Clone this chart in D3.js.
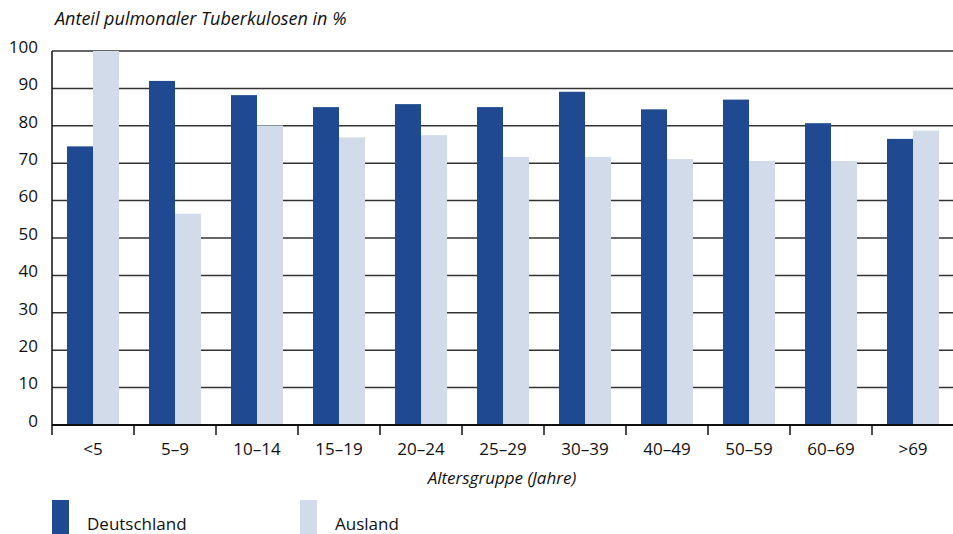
<!DOCTYPE html>
<html>
<head>
<meta charset="utf-8">
<script src="https://cdn.jsdelivr.net/npm/d3@7"></script>
<style>
  body { margin: 0; background: #fff; }
  text { font-family: "Open Sans", "DejaVu Sans", sans-serif; fill: #111; }
</style>
</head>
<body>
<div id="chart"></div>
<script>
  // Altersgruppen
  var categories = ["<5", "5\u20139", "10\u201314", "15\u201319", "20\u201324", "25\u201329", "30\u201339", "40\u201349", "50\u201359", "60\u201369", ">69"];
  var deutschland = [74.5, 92.0, 88.2, 85.0, 85.8, 85.0, 89.1, 84.4, 87.0, 80.7, 76.5];
  var ausland = [100, 56.5, 80.1, 76.9, 77.5, 71.7, 71.7, 71.1, 70.6, 70.6, 78.7];
  var yTicks = [0, 10, 20, 30, 40, 50, 60, 70, 80, 90, 100];
  var seriesNames = ["Deutschland", "Ausland"];

  var w = 953, h = 534;
  var plotLeft = 52, plotRight = 954, plotTop = 51, plotBottom = 425;
  var colors = ["#1f4a91", "#d1dbe9"];

  var svg = d3.select("#chart").append("svg")
    .attr("width", w)
    .attr("height", h);

  var xScale = d3.scaleBand()
    .domain(categories)
    .range([plotLeft, plotRight])
    .paddingInner(0)
    .paddingOuter(0);

  // two bars of ~26px in each 82px group
  var xInner = d3.scaleBand()
    .domain(seriesNames)
    .range([0, xScale.bandwidth()])
    .paddingOuter(0.577)
    .paddingInner(0);

  var yScale = d3.scaleLinear()
    .domain([0, 100])
    .range([plotBottom, plotTop]);

  // gridlines
  svg.append("g")
    .selectAll("line")
    .data(yTicks.filter(function(d) { return d > 0; }))
    .enter().append("line")
    .attr("x1", plotLeft)
    .attr("x2", w)
    .attr("y1", function(d) { return yScale(d); })
    .attr("y2", function(d) { return yScale(d); })
    .attr("stroke", "#333")
    .attr("stroke-width", 1.5);

  // y labels
  svg.append("g")
    .selectAll("text")
    .data(yTicks)
    .enter().append("text")
    .attr("x", 38)
    .attr("y", function(d) { return yScale(d); })
    .attr("dy", "0.1em")
    .style("text-anchor", "end")
    .style("font-size", "17px")
    .text(function(d) { return d; });

  // bars
  var data = categories.map(function(c, i) {
    return { cat: c, values: [
      { key: "Deutschland", v: deutschland[i] },
      { key: "Ausland", v: ausland[i] }
    ]};
  });

  var groups = svg.append("g").selectAll("g")
    .data(data)
    .enter().append("g")
    .attr("transform", function(d) { return "translate(" + xScale(d.cat) + ",0)"; });

  groups.selectAll("rect")
    .data(function(d) { return d.values; })
    .enter().append("rect")
    .attr("x", function(d) { return xInner(d.key); })
    .attr("y", function(d) { return yScale(d.v); })
    .attr("width", xInner.bandwidth())
    .attr("height", function(d) { return yScale(0) - yScale(d.v); })
    .style("fill", function(d, i) { return colors[i]; });

  // axes lines
  svg.append("line")
    .attr("x1", plotLeft).attr("x2", plotLeft)
    .attr("y1", plotTop).attr("y2", plotBottom + 10)
    .attr("stroke", "#111").attr("stroke-width", 1.5);

  svg.append("line")
    .attr("x1", plotLeft).attr("x2", w)
    .attr("y1", plotBottom).attr("y2", plotBottom)
    .attr("stroke", "#111").attr("stroke-width", 2.2);

  // category ticks
  svg.append("g").selectAll("line")
    .data(categories.slice(1))
    .enter().append("line")
    .attr("x1", function(d) { return xScale(d); })
    .attr("x2", function(d) { return xScale(d); })
    .attr("y1", plotBottom)
    .attr("y2", plotBottom + 10)
    .attr("stroke", "#111").attr("stroke-width", 1.5);

  // x labels
  svg.append("g").selectAll("text")
    .data(categories)
    .enter().append("text")
    .attr("x", function(d) { return xScale(d) + xScale.bandwidth() / 2; })
    .attr("y", 455)
    .style("text-anchor", "middle")
    .style("font-size", "17px")
    .text(function(d) { return d; });

  svg.append("text")
    .attr("x", 502)
    .attr("y", 484)
    .style("text-anchor", "middle")
    .style("font-size", "17px")
    .style("font-style", "italic")
    .text("Altersgruppe (Jahre)");

  svg.append("text")
    .attr("x", 55)
    .attr("y", 25)
    .style("font-size", "18px")
    .style("font-style", "italic")
    .text("Anteil pulmonaler Tuberkulosen in %");

  // legend
  var legend = svg.selectAll(".legend")
    .data(seriesNames)
    .enter().append("g")
    .attr("class", "legend")
    .attr("transform", function(d, i) { return "translate(" + (52 + i * 248) + ",500)"; });

  legend.append("rect")
    .attr("width", 17)
    .attr("height", 34)
    .style("fill", function(d, i) { return colors[i]; });

  legend.append("text")
    .attr("x", 35)
    .attr("y", 30)
    .style("font-size", "17px")
    .text(function(d) { return d; });
</script>
</body>
</html>
